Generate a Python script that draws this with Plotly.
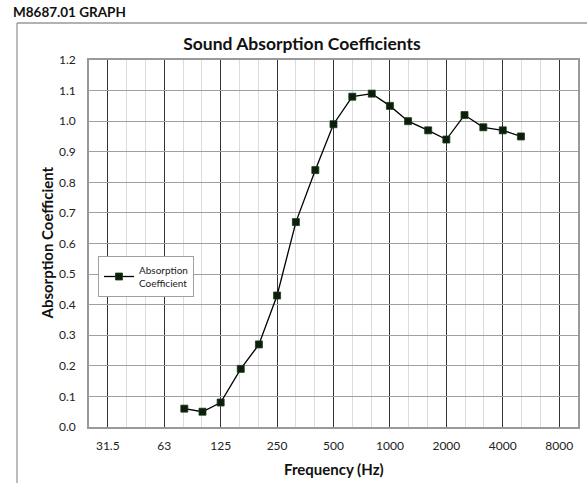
import math
import plotly.graph_objects as go

# Data
freqs = [80, 100, 125, 160, 200, 250, 315, 400, 500, 630, 800, 1000,
         1250, 1600, 2000, 2500, 3150, 4000, 5000]
absorption = [0.06, 0.05, 0.08, 0.19, 0.27, 0.43, 0.67, 0.84, 0.99, 1.08, 1.09, 1.05,
              1.00, 0.97, 0.94, 1.02, 0.98, 0.97, 0.95]
octave_labels = ["31.5", "63", "125", "250", "500", "1000", "2000", "4000", "8000"]
octave_steps = [-5, -4, -3, -2, -1, 0, 1, 2, 3]   # octaves relative to 1000 Hz
third_steps = [k / 3 for k in range(-16, 11)]     # third-octave grid relative to 1000 Hz

octave_vals = [1000 * 2 ** k for k in octave_steps]
third_vals = [1000 * 2 ** k for k in third_steps]
x_lo = math.log10(1000 * 2 ** (-16 / 3))
x_hi = math.log10(1000 * 2 ** (10 / 3))

FONT = "Lato"
L, R, T, B = 89, 9, 60, 56
W, H = 587, 483
PW, PH = W - L - R, H - T - B


def px_x(px):
    return (px - L) / PW


def px_y(py):
    return (H - B - py) / PH


fig = go.Figure()
fig.add_trace(go.Scatter(
    x=freqs, y=absorption, mode="lines+markers",
    name="Absorption<br>Coefficient",
    line=dict(color="#000000", width=1.3),
    marker=dict(symbol="square", size=7, color="#0b1f0b",
                line=dict(color="#1a3a1a", width=0.8)),
))

fig.update_layout(
    width=W, height=H,
    margin=dict(l=L, r=R, t=T, b=B, autoexpand=False),
    paper_bgcolor="white", plot_bgcolor="white",
    font=dict(family=FONT, size=12, color="#222222"),
    title=dict(text="<b>Sound Absorption Coefficients</b>", x=302 / W, xanchor="center",
               xref="container", y=1 - 44 / H, yanchor="middle",
               font=dict(family=FONT, size=17.5, color="#111111")),
    showlegend=True,
    legend=dict(x=px_x(98), y=px_y(256), xanchor="left", yanchor="top",
                bordercolor="#a0a0a0", borderwidth=1, bgcolor="white",
                font=dict(family=FONT, size=10, color="#222222"),
                itemwidth=30, tracegroupgap=0),
    xaxis=dict(
        type="log", range=[x_lo, x_hi], automargin=False,
        tickmode="array", tickvals=octave_vals, ticktext=octave_labels,
        showgrid=True, gridcolor="#333333", gridwidth=1.2,
        minor=dict(tickmode="array", tickvals=third_vals, showgrid=True,
                   gridcolor="#dcdcdc", gridwidth=1, ticks=""),
        showline=True, linecolor="#999999", linewidth=1.5, mirror=True,
        ticks="", ticklabelstandoff=7,
        tickfont=dict(family=FONT, size=12, color="#222222"),
        zeroline=False,
    ),
    yaxis=dict(
        range=[0, 1.2], dtick=0.1, tickformat=".1f", automargin=False,
        showgrid=True, gridcolor="#a0a0a0", gridwidth=1.3,
        showline=True, linecolor="#999999", linewidth=1.5, mirror=True,
        ticks="", ticklabelstandoff=9,
        tickfont=dict(family=FONT, size=12, color="#222222"),
        zeroline=False,
    ),
)

# Axis titles
fig.add_annotation(text="<b>Frequency (Hz)</b>", xref="paper", yref="paper",
                   x=0.5, y=px_y(469), xanchor="center", yanchor="middle", showarrow=False,
                   font=dict(family=FONT, size=15, color="#111111"))
fig.add_annotation(text="<b>Absorption Coefficient</b>", xref="paper", yref="paper",
                   x=px_x(46), y=0.5, xanchor="center", yanchor="middle", showarrow=False,
                   textangle=-90, font=dict(family=FONT, size=15, color="#111111"))

# Outer chart frame (left and top edges visible)
fx = px_x(17)
fy = px_y(23)
fig.add_shape(type="line", xref="paper", yref="paper", x0=fx, x1=fx, y0=fy, y1=px_y(490),
              line=dict(color="#999999", width=1.3))
fig.add_shape(type="line", xref="paper", yref="paper", x0=fx, x1=px_x(595), y0=fy, y1=fy,
              line=dict(color="#999999", width=1.3))

fig.add_annotation(text="<b>M8687.01 GRAPH</b>", xref="paper", yref="paper",
                   x=px_x(11), y=px_y(12), xanchor="left", yanchor="middle",
                   showarrow=False, font=dict(family=FONT, size=13.5, color="#111111"))

fig.write_html("out.html", config={"displayModeBar": False},
               post_script="document.body.style.margin='0';document.body.style.overflow='hidden';")
